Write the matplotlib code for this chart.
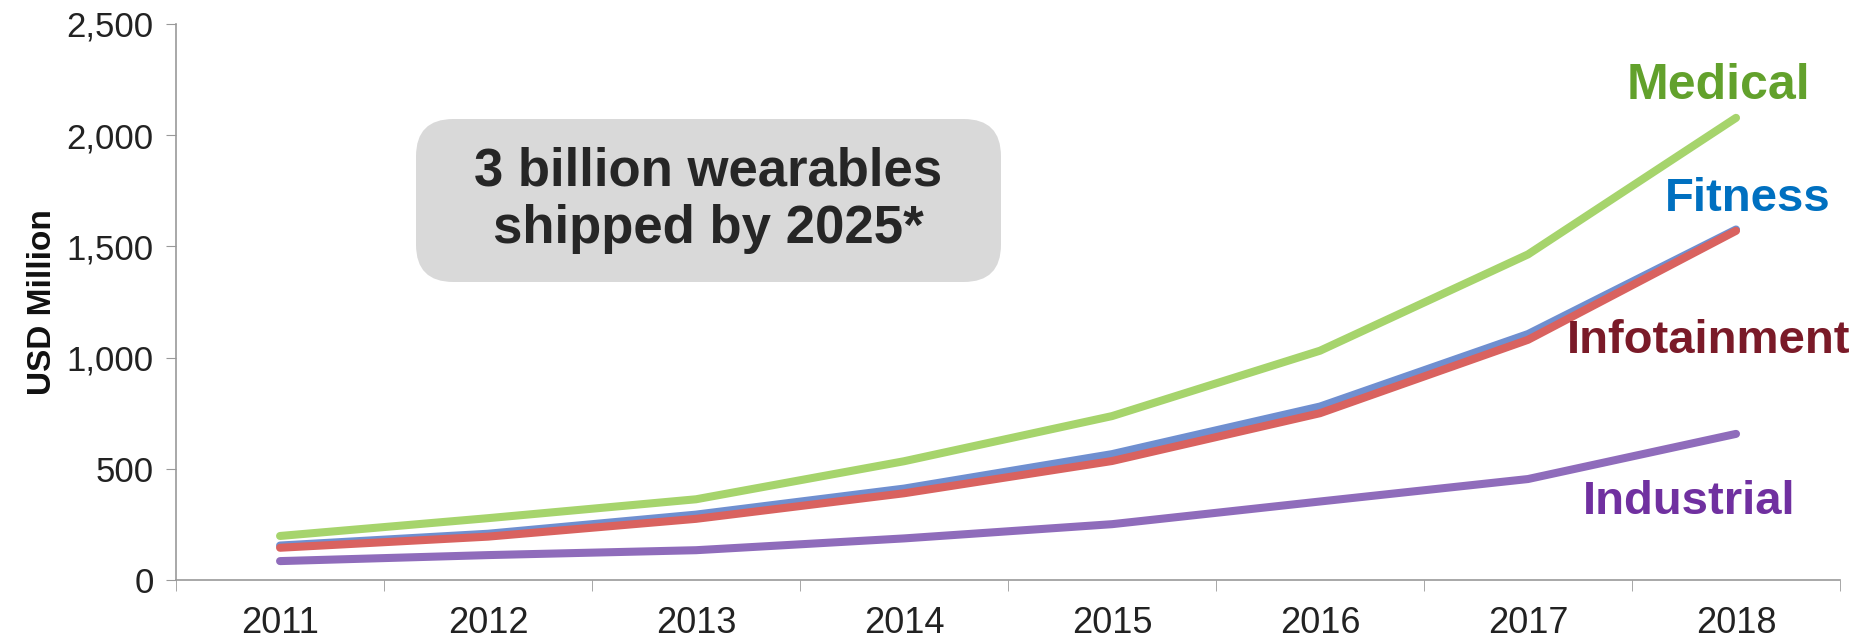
import numpy as np
import matplotlib.pyplot as plt
from matplotlib.patches import FancyBboxPatch

# data (USD million)
years = ['2011', '2012', '2013', '2014', '2015', '2016', '2017', '2018']
medical = [198, 278, 363, 534, 737, 1031, 1464, 2078]
fitness = [155, 208, 294, 411, 566, 780, 1106, 1576]
infotainment = [145, 195, 275, 390, 535, 750, 1080, 1570]
industrial = [85, 112, 134, 187, 251, 353, 454, 657]

y_ticks = [0, 500, 1000, 1500, 2000, 2500]

NARROW = ['Liberation Sans Narrow', 'Liberation Sans', 'DejaVu Sans']
ARIAL = ['Liberation Sans', 'DejaVu Sans']

fig = plt.figure(figsize=(18.65, 6.38), dpi=100)
ax = fig.add_axes([0.0944, 0.0909, 0.8922, 0.8715])

x = np.arange(len(years))
series = [
    (medical, '#a6d46c'),
    (fitness, '#6f8fd0'),
    (infotainment, '#d9625f'),
    (industrial, '#8f6cbb'),
]
for vals, col in series:
    ax.plot(x, vals, color=col, lw=5.8, solid_capstyle='round',
            solid_joinstyle='round')

ax.set_xlim(-0.5, len(years) - 0.5)
ax.set_ylim(0, 2500)

ax.set_xticks(x)
ax.set_xticklabels(years, family=NARROW, fontsize=26, color='#222222')
ax.set_xticks(np.arange(len(years) + 1) - 0.5, minor=True)
ax.tick_params(axis='x', which='major', length=0, pad=19)
ax.tick_params(axis='x', which='minor', length=8, color='#999999')

ax.set_yticks(y_ticks)
ax.set_yticklabels([f'{v:,}' for v in y_ticks], family=ARIAL, fontsize=25,
                   color='#222222')
ax.tick_params(axis='y', length=7, color='#999999', pad=9)

for s in ['top', 'right']:
    ax.spines[s].set_visible(False)
for s in ['left', 'bottom']:
    ax.spines[s].set_color('#999999')
    ax.spines[s].set_linewidth(1.2)

ax.set_ylabel('USD Million', family=NARROW, fontweight='bold', fontsize=24,
              color='#111111', labelpad=6)

# series labels
lab_kw = dict(fontweight='bold', ha='center', va='center',
              transform=fig.transFigure)
fig.text(1718 / 1865, 1 - 86 / 638, 'Medical', color='#62a12c',
         family=ARIAL, fontsize=36, **lab_kw)
fig.text(1748 / 1865, 1 - 199 / 638, 'Fitness', color='#0070c0',
         family=ARIAL, fontsize=34, **lab_kw)
fig.text(1709 / 1865, 1 - 341 / 638, 'Infotainment', color='#7a1a28',
         family=NARROW, fontsize=34, **lab_kw)
fig.text(1689 / 1865, 1 - 502 / 638, 'Industrial', color='#7030a0',
         family=NARROW, fontsize=34, **lab_kw)

# callout box
bx0, by0, bx1, by1 = 416 / 1865, 1 - 282 / 638, 1001 / 1865, 1 - 119 / 638
box = FancyBboxPatch((bx0, by0), bx1 - bx0, by1 - by0,
                     boxstyle='round,pad=0,rounding_size=0.02',
                     transform=fig.transFigure, facecolor='#d9d9d9',
                     edgecolor='none', mutation_aspect=1865 / 638)
fig.patches.append(box)
fig.text((bx0 + bx1) / 2, (by0 + by1) / 2, '3 billion wearables\nshipped by 2025*',
         ha='center', va='center', family=NARROW, fontweight='bold',
         fontsize=38, color='#262626', linespacing=1.2)

fig.savefig('out.png', dpi=100)
